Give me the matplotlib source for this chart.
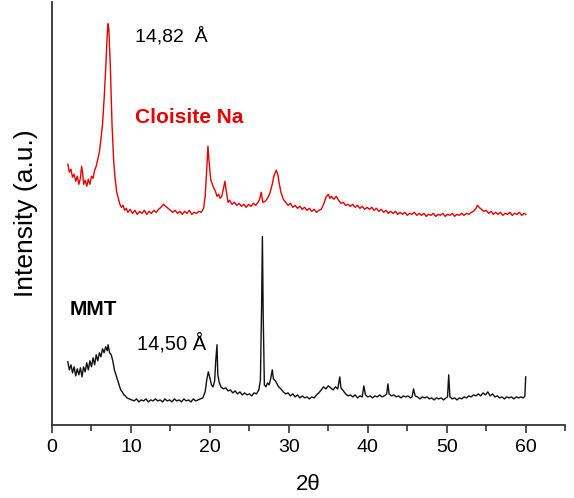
"""XRD patterns of Cloisite Na and MMT (2theta vs intensity)."""
import matplotlib
matplotlib.use("Agg")
import matplotlib.pyplot as plt
import numpy as np
from matplotlib.ticker import MultipleLocator

plt.rcParams["font.family"] = ["Liberation Sans", "DejaVu Sans"]

# ---- data: (2theta, intensity a.u.) ----
cloisite = [
    (2.0, 260), (2.2, 252), (2.4, 255), (2.6, 247), (2.8, 250), (3.0, 243),
    (3.2, 248), (3.4, 240), (3.6, 246), (3.75, 258), (3.9, 250), (4.0, 240),
    (4.2, 244), (4.4, 238), (4.6, 245), (4.8, 240), (5.0, 248), (5.2, 246),
    (5.4, 254), (5.6, 258), (5.8, 265), (6.0, 272), (6.2, 285), (6.4, 300),
    (6.6, 325), (6.8, 355), (7.0, 390), (7.1, 400), (7.2, 395), (7.4, 355),
    (7.6, 300), (7.8, 265), (8.0, 245), (8.2, 232), (8.4, 226), (8.6, 220),
    (8.8, 217), (9.0, 219), (9.2, 214), (9.4, 216), (9.6, 212), (9.9, 215),
    (10.2, 211), (10.5, 214), (10.8, 210), (11.1, 213), (11.4, 211),
    (11.7, 214), (12.0, 210), (12.3, 213), (12.6, 211), (12.9, 214),
    (13.2, 212), (13.5, 215), (13.8, 217), (14.1, 220), (14.4, 218),
    (14.7, 216), (15.0, 214), (15.3, 212), (15.6, 214), (15.9, 211),
    (16.2, 213), (16.5, 210), (16.8, 213), (17.1, 211), (17.4, 214),
    (17.7, 210), (18.0, 212), (18.3, 211), (18.6, 213), (18.9, 212),
    (19.2, 216), (19.4, 228), (19.6, 255), (19.75, 278), (19.9, 262),
    (20.1, 245), (20.3, 240), (20.5, 236), (20.7, 233), (20.9, 228),
    (21.1, 230), (21.3, 226), (21.5, 228), (21.7, 235), (21.9, 243),
    (22.1, 232), (22.3, 222), (22.5, 224), (22.8, 220), (23.1, 222),
    (23.4, 219), (23.7, 221), (24.0, 218), (24.3, 220), (24.6, 217),
    (24.9, 220), (25.2, 218), (25.5, 221), (25.8, 219), (26.1, 222),
    (26.3, 225), (26.5, 232), (26.7, 222), (27.0, 223), (27.3, 226),
    (27.6, 231), (27.9, 240), (28.1, 248), (28.4, 254), (28.6, 250),
    (28.8, 240), (29.0, 232), (29.3, 225), (29.6, 222), (29.9, 219),
    (30.2, 221), (30.5, 217), (30.8, 219), (31.1, 216), (31.4, 218),
    (31.7, 215), (32.0, 217), (32.3, 214), (32.6, 216), (32.9, 213),
    (33.2, 215), (33.5, 212), (33.8, 214), (34.1, 215), (34.4, 220),
    (34.7, 227), (35.0, 230), (35.2, 226), (35.4, 228), (35.7, 225),
    (36.0, 228), (36.3, 224), (36.6, 221), (36.9, 222), (37.2, 219),
    (37.5, 220), (37.8, 218), (38.1, 220), (38.4, 217), (38.7, 219),
    (39.0, 216), (39.3, 218), (39.6, 215), (39.9, 217), (40.2, 215),
    (40.5, 217), (40.8, 214), (41.1, 216), (41.4, 213), (41.7, 215),
    (42.0, 212), (42.3, 214), (42.6, 211), (42.9, 213), (43.2, 211),
    (43.5, 213), (43.8, 210), (44.1, 212), (44.4, 210), (44.7, 212),
    (45.0, 209), (45.3, 211), (45.6, 210), (45.9, 212), (46.2, 209),
    (46.5, 211), (46.8, 209), (47.1, 211), (47.4, 208), (47.7, 210),
    (48.0, 209), (48.3, 211), (48.6, 208), (48.9, 210), (49.2, 209),
    (49.5, 211), (49.8, 208), (50.1, 210), (50.4, 209), (50.7, 211),
    (51.0, 208), (51.3, 210), (51.6, 209), (51.9, 211), (52.2, 209),
    (52.5, 211), (52.8, 210), (53.1, 212), (53.4, 213), (53.7, 216),
    (53.9, 219), (54.1, 217), (54.4, 215), (54.7, 213), (55.0, 214),
    (55.3, 211), (55.6, 213), (55.9, 210), (56.2, 212), (56.5, 210),
    (56.8, 212), (57.1, 209), (57.4, 211), (57.7, 210), (58.0, 212),
    (58.3, 209), (58.6, 211), (58.9, 210), (59.2, 212), (59.5, 209),
    (59.8, 211), (60.0, 210),
]

mmt = [
    (2.0, 63), (2.2, 55), (2.4, 60), (2.6, 52), (2.8, 58), (3.0, 49),
    (3.2, 56), (3.4, 50), (3.6, 57), (3.8, 48), (4.0, 58), (4.2, 53),
    (4.4, 62), (4.6, 55), (4.8, 64), (5.0, 58), (5.2, 67), (5.4, 60),
    (5.6, 70), (5.8, 64), (6.0, 72), (6.2, 68), (6.4, 76), (6.6, 72),
    (6.8, 78), (7.0, 74), (7.1, 80), (7.3, 72), (7.5, 70), (7.7, 64),
    (7.9, 55), (8.1, 50), (8.3, 45), (8.5, 40), (8.7, 35), (8.9, 33),
    (9.1, 30), (9.3, 29), (9.5, 27), (9.8, 26), (10.1, 25), (10.4, 24),
    (10.7, 26), (11.0, 23), (11.3, 25), (11.6, 24), (11.9, 26), (12.2, 23),
    (12.5, 25), (12.8, 24), (13.1, 26), (13.4, 24), (13.7, 25), (14.0, 23),
    (14.3, 26), (14.6, 24), (14.9, 25), (15.2, 23), (15.5, 26), (15.8, 24),
    (16.1, 25), (16.4, 23), (16.7, 26), (17.0, 24), (17.3, 25), (17.6, 23),
    (17.9, 26), (18.2, 24), (18.5, 25), (18.8, 26), (19.1, 27), (19.4, 33),
    (19.6, 45), (19.8, 53), (20.0, 47), (20.2, 40), (20.4, 38), (20.6, 44),
    (20.75, 65), (20.9, 80), (21.0, 50), (21.2, 42), (21.4, 38), (21.7, 36),
    (22.0, 37), (22.3, 34), (22.6, 35), (22.9, 32), (23.2, 34), (23.5, 31),
    (23.8, 33), (24.1, 30), (24.4, 32), (24.7, 30), (25.0, 31), (25.3, 29),
    (25.6, 32), (25.9, 31), (26.2, 35), (26.4, 45), (26.55, 120),
    (26.65, 188), (26.75, 110), (26.9, 40), (27.1, 38), (27.3, 42),
    (27.5, 40), (27.7, 46), (27.9, 55), (28.05, 46), (28.3, 44), (28.5, 41),
    (28.7, 38), (29.0, 36), (29.3, 33), (29.6, 31), (29.9, 32), (30.2, 29),
    (30.5, 31), (30.8, 28), (31.1, 30), (31.4, 27), (31.7, 29), (32.0, 27),
    (32.3, 28), (32.6, 26), (32.9, 28), (33.2, 27), (33.5, 30), (33.8, 32),
    (34.1, 35), (34.4, 38), (34.7, 36), (35.0, 39), (35.3, 37), (35.6, 35),
    (35.9, 38), (36.2, 36), (36.45, 48), (36.6, 37), (36.9, 34), (37.2, 31),
    (37.5, 29), (37.8, 30), (38.1, 28), (38.4, 30), (38.7, 27), (39.0, 29),
    (39.3, 28), (39.5, 39), (39.7, 30), (40.0, 28), (40.3, 29), (40.6, 27),
    (40.9, 29), (41.2, 28), (41.5, 30), (41.8, 28), (42.1, 29), (42.4, 31),
    (42.55, 41), (42.7, 31), (43.0, 29), (43.3, 30), (43.6, 28), (43.9, 29),
    (44.2, 27), (44.5, 29), (44.8, 28), (45.1, 29), (45.4, 27), (45.6, 28),
    (45.8, 36), (46.0, 29), (46.3, 28), (46.6, 26), (46.9, 28), (47.2, 27),
    (47.5, 28), (47.8, 26), (48.1, 27), (48.4, 25), (48.7, 27), (49.0, 26),
    (49.3, 27), (49.6, 25), (49.9, 27), (50.1, 28), (50.25, 50), (50.4, 28),
    (50.7, 26), (51.0, 27), (51.3, 25), (51.6, 27), (51.9, 26), (52.2, 28),
    (52.5, 27), (52.8, 29), (53.1, 28), (53.4, 30), (53.7, 29), (54.0, 31),
    (54.3, 29), (54.6, 32), (54.9, 30), (55.2, 33), (55.5, 29), (55.8, 31),
    (56.1, 28), (56.4, 29), (56.7, 27), (57.0, 28), (57.3, 26), (57.6, 28),
    (57.9, 27), (58.2, 28), (58.5, 26), (58.8, 28), (59.1, 27), (59.4, 28),
    (59.7, 27), (59.9, 29), (60.0, 48),
]

x_ticks = [0, 10, 20, 30, 40, 50, 60]


def main() -> None:
    cl = np.array(cloisite, dtype=float)
    mm = np.array(mmt, dtype=float)

    fig = plt.figure(figsize=(5.74, 4.98), dpi=100)
    ax = fig.add_axes([0.0906, 0.1466, 0.894, 0.85])

    ax.plot(cl[:, 0], cl[:, 1], color="#e60000", lw=1.0)
    ax.plot(mm[:, 0], mm[:, 1], color="#111111", lw=1.0)

    ax.set_xlim(0, 65)
    ax.set_ylim(0, 422)
    ax.set_xticks(x_ticks)
    ax.xaxis.set_minor_locator(MultipleLocator(5))
    ax.set_yticks([])
    ax.tick_params(axis="x", which="major", length=6, width=1.2,
                   labelsize=14, pad=4, color="#333333")
    ax.tick_params(axis="x", which="minor", length=4, width=1.2,
                   color="#333333")
    for side in ("top", "right"):
        ax.spines[side].set_visible(False)
    for side in ("left", "bottom"):
        ax.spines[side].set_linewidth(1.3)
        ax.spines[side].set_color("#333333")

    ax.set_xlabel("2θ", fontsize=16, labelpad=13)
    ax.set_ylabel("Intensity (a.u.)", fontsize=19, labelpad=10)

    ax.text(10.5, 388, "14,82  Å", fontsize=14, va="center", ha="left")
    ax.text(10.5, 307, "Cloisite Na", fontsize=15, fontweight="bold",
            color="#e60000", va="center", ha="left")
    ax.text(2.2, 115, "MMT", fontsize=15, fontweight="bold",
            va="center", ha="left")
    ax.text(10.8, 82, "14,50 Å", fontsize=14.5, va="center", ha="left")

    fig.savefig("out.png", dpi=100)
    plt.close(fig)


if __name__ == "__main__":
    main()
